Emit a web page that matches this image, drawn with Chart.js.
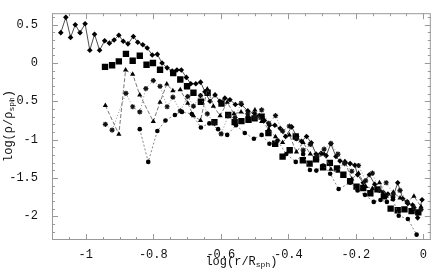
<!DOCTYPE html>
<html>
<head>
<meta charset="utf-8">
<script src="https://cdn.jsdelivr.net/npm/chart.js@4"></script>
<style>
  html, body { margin: 0; padding: 0; background: #fff; }
  canvas { display: block; }
</style>
</head>
<body>
<canvas id="myChart" width="436" height="270"></canvas>
<script>
/* globals Chart:false */
const xTicks = [-1, -0.8, -0.6, -0.4, -0.2, 0];
const yTicks = [0.5, 0, -0.5, -1, -1.5, -2];

// diamonds, solid line
const diamondX = [-1.074, -1.059, -1.045, -1.031, -1.017, -1.002, -0.988, -0.974, -0.959, -0.944, -0.930, -0.916, -0.902, -0.889, -0.875, -0.859, -0.846, -0.831, -0.818, -0.803, -0.788, -0.774, -0.759, -0.744, -0.730, -0.717, -0.702, -0.689, -0.674, -0.660, -0.647, -0.632, -0.617, -0.603, -0.588, -0.573, -0.557, -0.539, -0.520, -0.500, -0.486, -0.471, -0.456, -0.440, -0.424, -0.408, -0.390, -0.375, -0.361, -0.346, -0.332, -0.318, -0.303, -0.288, -0.274, -0.259, -0.247, -0.232, -0.217, -0.203, -0.195, -0.178, -0.160, -0.144, -0.134, -0.119, -0.105, -0.090, -0.076, -0.061, -0.046, -0.032, -0.017, -0.004];
const diamondY = [0.396, 0.596, 0.334, 0.5, 0.396, 0.513, 0.166, 0.375, 0.166, 0.291, 0.259, 0.30, 0.363, 0.284, 0.25, 0.346, 0.271, 0.238, 0.196, 0.104, 0.113, 0, -0.063, -0.104, -0.091, -0.091, -0.188, -0.271, -0.271, -0.25, -0.375, -0.5, -0.416, -0.5, -0.459, -0.479, -0.541, -0.541, -0.625, -0.659, -0.688, -0.75, -0.813, -0.813, -0.854, -0.959, -0.834, -0.959, -1.021, -0.959, -1.041, -1.188, -1.179, -1.209, -1.054, -1.221, -1.279, -1.291, -1.313, -1.334, -1.459, -1.563, -1.459, -1.584, -1.654, -1.688, -1.709, -1.75, -1.563, -1.771, -1.834, -1.854, -2.021, -1.784];

// squares, no line
const squareX = [-0.943, -0.922, -0.902, -0.881, -0.861, -0.840, -0.820, -0.801, -0.780, -0.741, -0.720, -0.700, -0.681, -0.659, -0.639, -0.619, -0.598, -0.578, -0.559, -0.539, -0.518, -0.500, -0.479, -0.459, -0.439, -0.417, -0.396, -0.378, -0.357, -0.337, -0.318, -0.297, -0.277, -0.256, -0.237, -0.217, -0.198, -0.178, -0.157, -0.136, -0.117, -0.097, -0.076, -0.056, -0.035, -0.015];
const squareY = [-0.05, -0.029, 0.021, 0.119, 0.029, 0.094, -0.023, 0, -0.088, -0.131, -0.216, -0.304, -0.388, -0.506, -0.388, -0.771, -0.529, -0.679, -0.771, -0.759, -0.741, -0.723, -0.7, -0.916, -1.054, -1.221, -1.138, -0.959, -1.269, -1.313, -1.256, -1.363, -1.304, -1.375, -1.459, -1.541, -1.613, -1.631, -1.7, -1.65, -1.74, -1.9, -1.921, -1.91, -1.934, -1.95];

// triangles, dashed line
const triangleX = [-0.942, -0.902, -0.882, -0.861, -0.840, -0.800, -0.780, -0.760, -0.742, -0.720, -0.698, -0.681, -0.660, -0.640, -0.622, -0.602, -0.581, -0.561, -0.540, -0.520, -0.499, -0.479, -0.458, -0.438, -0.417, -0.397, -0.376, -0.356, -0.335, -0.315, -0.294, -0.274, -0.253, -0.233, -0.212, -0.192, -0.171, -0.151, -0.130, -0.110, -0.089, -0.069, -0.048, -0.028, -0.007];
const triangleY = [-0.554, -0.929, -0.091, -0.146, -0.416, -0.763, -0.513, -0.275, -0.363, -0.35, -0.525, -0.688, -0.75, -0.338, -0.563, -0.688, -0.513, -0.663, -0.638, -0.688, -0.613, -0.763, -0.863, -0.963, -1.038, -0.938, -1.163, -1.038, -1.188, -1.25, -1.188, -1.388, -1.413, -1.288, -1.513, -1.438, -1.613, -1.638, -1.563, -1.738, -1.688, -1.763, -1.813, -1.738, -1.875];

// stars, dotted line
const starX = [-0.942, -0.922, -0.881, -0.861, -0.840, -0.822, -0.800, -0.780, -0.759, -0.742, -0.720, -0.698, -0.681, -0.660, -0.640, -0.619, -0.599, -0.578, -0.558, -0.540, -0.520, -0.499, -0.479, -0.458, -0.438, -0.417, -0.397, -0.376, -0.356, -0.335, -0.315, -0.294, -0.274, -0.253, -0.233, -0.212, -0.192, -0.171, -0.151, -0.130, -0.110, -0.089, -0.069, -0.048, -0.028, -0.007];
const starY = [-0.8, -0.875, -0.396, -0.571, -0.638, -0.334, -0.229, -0.304, -0.571, -0.446, -0.625, -0.438, -0.563, -0.425, -0.663, -0.788, -0.925, -0.688, -0.713, -0.525, -0.663, -0.713, -0.613, -0.788, -0.688, -0.888, -0.825, -0.988, -1.138, -1.063, -1.213, -1.125, -1.05, -1.188, -1.313, -1.413, -1.338, -1.538, -1.438, -1.663, -1.563, -1.713, -1.663, -1.813, -1.888, -1.913];

// circles, dotted line
const circleX = [-0.840, -0.815, -0.788, -0.764, -0.736, -0.715, -0.686, -0.659, -0.634, -0.608, -0.581, -0.555, -0.529, -0.502, -0.479, -0.456, -0.432, -0.406, -0.378, -0.356, -0.336, -0.317, -0.297, -0.276, -0.251, -0.217, -0.195, -0.173, -0.147, -0.127, -0.108, -0.090, -0.073, -0.046, -0.020];
const circleY = [-0.863, -1.291, -0.888, -0.75, -0.679, -0.638, -0.666, -0.841, -0.788, -0.863, -0.938, -0.813, -0.913, -0.988, -0.938, -1.054, -1.013, -1.188, -1.291, -1.188, -1.396, -1.404, -1.338, -1.446, -1.644, -1.563, -1.663, -1.721, -1.813, -1.788, -1.813, -1.779, -1.994, -2.035, -2.24];

const pts = (xs, ys) => xs.map((x, i) => ({ x: x, y: ys[i] }));
const monoFont = { family: 'Liberation Mono', size: 12 };

const frameTicks = {
  id: 'frameTicks',
  beforeDatasetsDraw(chart) {
    const { ctx, chartArea: a, scales: { x, y } } = chart;
    ctx.save();
    ctx.strokeStyle = '#999';
    ctx.lineWidth = 1;
    ctx.strokeRect(a.left + 0.5, a.top + 0.5, a.right - a.left - 1, a.bottom - a.top - 1);
    ctx.beginPath();
    for (let i = -22; i <= 0; i++) {
      const px = Math.round(x.getPixelForValue(i * 0.05)) + 0.5;
      const len = i % 4 === 0 ? 6 : 3;
      ctx.moveTo(px, a.bottom); ctx.lineTo(px, a.bottom - len);
      ctx.moveTo(px, a.top); ctx.lineTo(px, a.top + len);
    }
    for (let j = -23; j <= 6; j++) {
      const py = Math.round(y.getPixelForValue(j * 0.1)) + 0.5;
      const len = j % 5 === 0 ? 6 : 3;
      ctx.moveTo(a.left, py); ctx.lineTo(a.left + len, py);
      ctx.moveTo(a.right, py); ctx.lineTo(a.right - len, py);
    }
    ctx.stroke();
    ctx.restore();
  },
  afterDraw(chart) {
    const { ctx, chartArea: a } = chart;
    const drawTitle = (parts, cx, cy, rot) => {
      ctx.save();
      ctx.translate(cx, cy);
      ctx.rotate(rot);
      ctx.fillStyle = '#111';
      ctx.textBaseline = 'alphabetic';
      let w = 0;
      parts.forEach(p => { ctx.font = (p[1] ? '8px' : '12px') + ' "Liberation Mono"'; w += ctx.measureText(p[0]).width; });
      let xx = -w / 2;
      parts.forEach(p => {
        ctx.font = (p[1] ? '8px' : '12px') + ' "Liberation Mono"';
        ctx.fillText(p[0], xx, p[1] ? 6 : 4);
        xx += ctx.measureText(p[0]).width;
      });
      ctx.restore();
    };
    drawTitle([['log(r/R', false], ['sph', true], [')', false]], (a.left + a.right) / 2, 261, 0);
    drawTitle([['log(\u03c1/\u03c1', false], ['sph', true], [')', false]], 8, 126, -Math.PI / 2);
  }
};

new Chart(document.getElementById('myChart'), {
  type: 'scatter',
  data: {
    datasets: [
      { data: pts(circleX, circleY), showLine: true, borderColor: '#666', borderWidth: 0.8, borderDash: [2, 2],
        pointStyle: 'circle', pointRadius: 2.3, pointBackgroundColor: '#000', pointBorderColor: '#000', pointBorderWidth: 0 },
      { data: pts(starX, starY), showLine: true, borderColor: '#777', borderWidth: 0.8, borderDash: [1, 2],
        pointStyle: 'star', pointRadius: 2.6, pointBackgroundColor: '#000', pointBorderColor: '#111', pointBorderWidth: 1.2 },
      { data: pts(triangleX, triangleY), showLine: true, borderColor: '#555', borderWidth: 0.8, borderDash: [4, 2],
        pointStyle: 'triangle', pointRadius: 3, pointBackgroundColor: '#000', pointBorderColor: '#000', pointBorderWidth: 0 },
      { data: pts(squareX, squareY), showLine: false,
        pointStyle: 'rect', pointRadius: 4.5, pointBackgroundColor: '#000', pointBorderColor: '#000', pointBorderWidth: 0 },
      { data: pts(diamondX, diamondY), showLine: true, borderColor: '#222', borderWidth: 0.8,
        pointStyle: 'rectRot', pointRadius: 2.8, pointBackgroundColor: '#000', pointBorderColor: '#000', pointBorderWidth: 0 }
    ]
  },
  options: {
    responsive: false,
    animation: false,
    devicePixelRatio: 1,
    layout: { padding: { top: 3, right: 1, left: 0, bottom: 0 } },
    plugins: { legend: { display: false }, tooltip: { enabled: false } },
    scales: {
      x: {
        type: 'linear', min: -1.1, max: 0.022,
        afterBuildTicks: s => { s.ticks = xTicks.map(v => ({ value: v })); },
        afterFit: s => { s.height = 30; },
        grid: { display: false }, border: { display: false },
        ticks: { padding: 0, font: monoFont, color: '#111', maxRotation: 0, autoSkip: false, callback: v => String(v) }
      },
      y: {
        type: 'linear', min: -2.31, max: 0.65,
        afterBuildTicks: s => { s.ticks = yTicks.map(v => ({ value: v })); },
        afterFit: s => { s.width = 52; },
        grid: { display: false }, border: { display: false },
        ticks: { padding: 6, font: monoFont, color: '#111', autoSkip: false, callback: v => String(v) }
      }
    }
  },
  plugins: [frameTicks]
});
</script>
</body>
</html>
